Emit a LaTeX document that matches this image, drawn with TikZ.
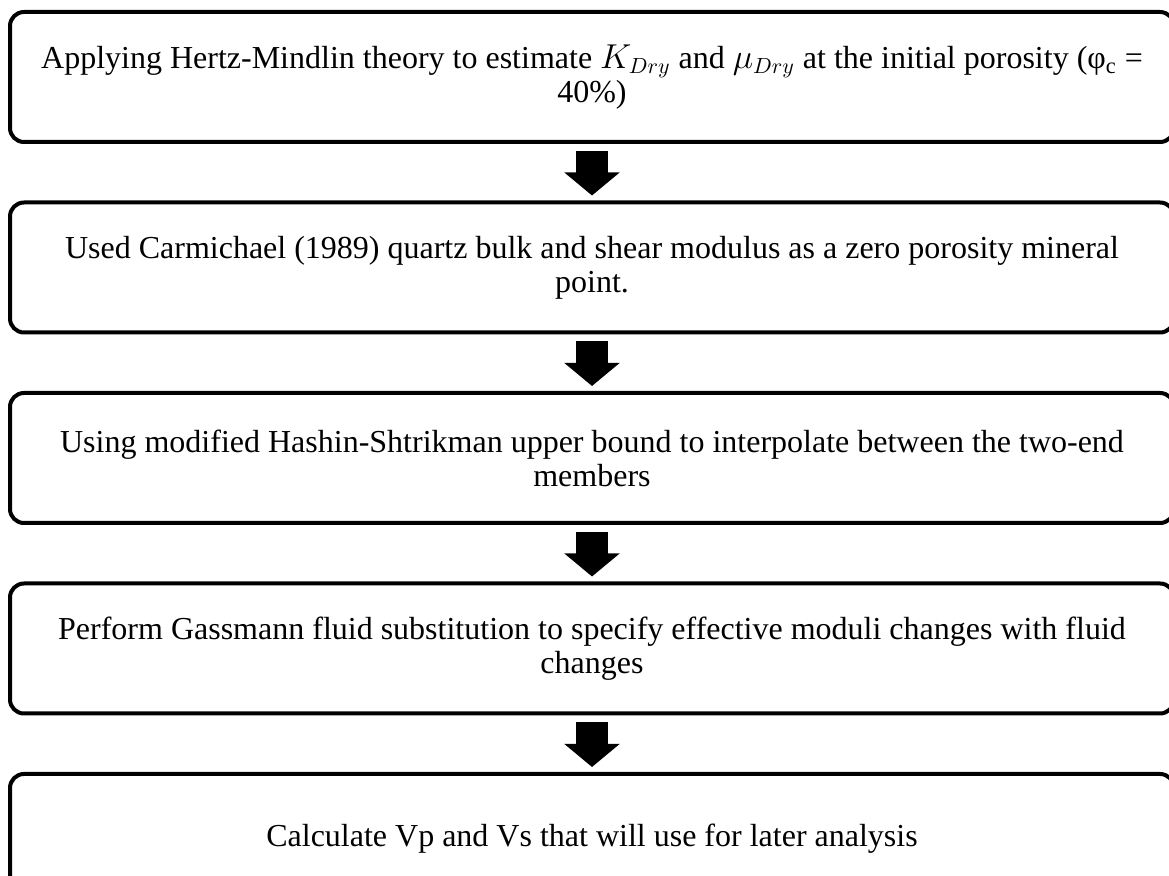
\documentclass[tikz,border=0pt]{standalone}
\usepackage{fontspec}
\setmainfont{Liberation Serif}
\usetikzlibrary{arrows.meta}

\begin{document}
\begin{tikzpicture}[
  x=0.5pt, y=-0.5pt,
  stepbox/.style={draw, line width=2pt, rounded corners=7pt, minimum width=582pt, minimum height=65pt, align=center, inner sep=0pt, font=\fontsize{16}{17}\selectfont},
  bigarr/.style={line width=16pt, -{Triangle[width=27pt,length=11.5pt]}, shorten <=3.5pt, shorten >=2.5pt}]
  \useasboundingbox (0,0) rectangle (1169,876);
  \node[stepbox] (s1) at (592,77) {Applying Hertz-Mindlin theory to estimate $K_{Dry}$ and $\mu_{Dry}$ at the initial porosity (φ\textsubscript{c} =\\ 40\%)};
  \node[stepbox] (s2) at (592,267.5) {Used Carmichael (1989) quartz bulk and shear modulus as a zero porosity mineral\\ point.};
  \node[stepbox] (s3) at (592,458) {Using modified Hashin-Shtrikman upper bound to interpolate between the two-end\\ members};
  \node[stepbox] (s4) at (592,648.5) {Perform Gassmann fluid substitution to specify effective moduli changes with fluid\\ changes};
  \node[stepbox] (s5) at (592,839) {Calculate Vp and Vs that will use for later analysis};
  \draw[bigarr] (s1) -- (s2);
  \draw[bigarr] (s2) -- (s3);
  \draw[bigarr] (s3) -- (s4);
  \draw[bigarr] (s4) -- (s5);
\end{tikzpicture}
\end{document}
